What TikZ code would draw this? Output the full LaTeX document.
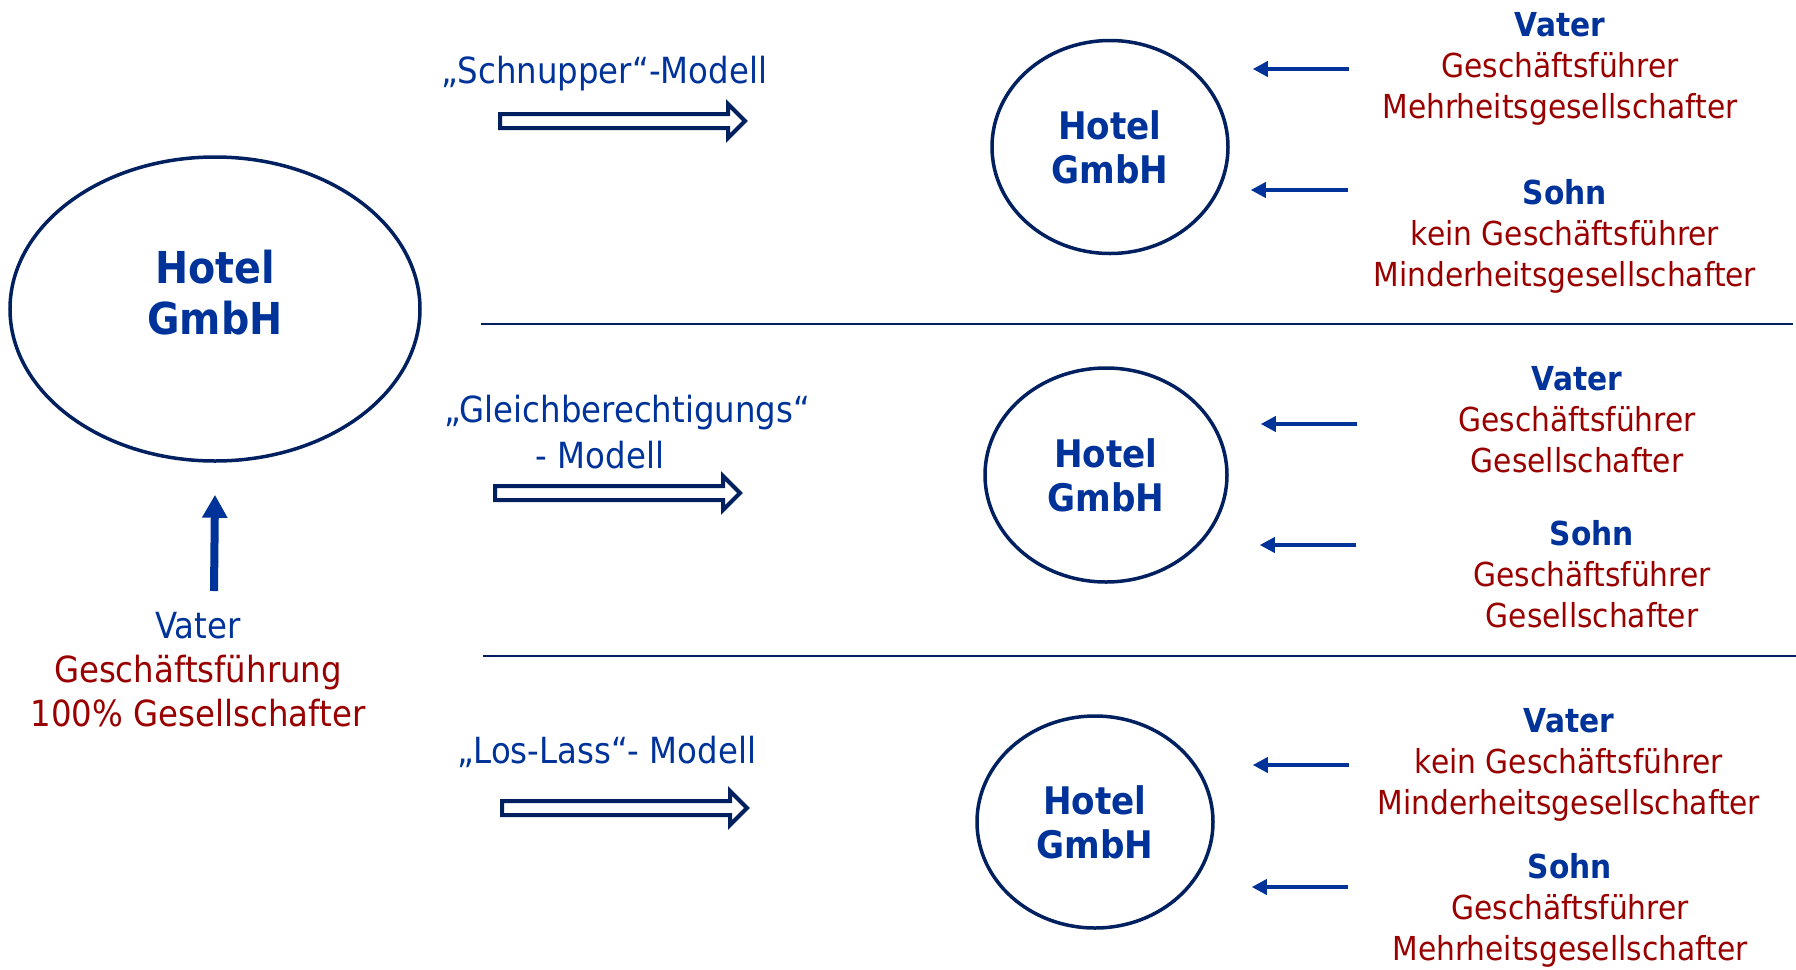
\documentclass[tikz,border=0pt]{standalone}
\usepackage{fontspec}
\setmainfont{DejaVu Sans}[FakeStretch=0.9]
\usepackage{xcolor}
\usetikzlibrary{arrows.meta,shapes.geometric}
\definecolor{blau}{RGB}{0,51,153}
\definecolor{navy}{RGB}{0,32,96}
\definecolor{rot}{RGB}{153,0,0}
% hollow block arrow: tail x, centre y (pixel units)
\newcommand{\hohlpfeil}[2]{%
  \draw[hohl] (#1,#2-7) -- (#1+228,#2-7) -- (#1+228,#2-17) -- (#1+245,#2)
    -- (#1+228,#2+17) -- (#1+228,#2+7) -- (#1,#2+7) -- cycle;}

\begin{document}
\begin{tikzpicture}[x=0.5pt, y=-0.5pt,
    oval/.style={draw=navy, line width=1.75pt, ellipse, inner sep=0pt},
    hoteltxt/.style={text=blau, align=center, font=\bfseries\fontsize{19}{22}\selectfont},
    modell/.style={text=blau, anchor=base, font=\fontsize{18}{22}\selectfont},
    rolle/.style={text=rot, align=center, font=\fontsize{16.5}{20.5}\selectfont},
    pfeil/.style={draw=blau, line width=1.8pt, -{Triangle[width=7.5pt,length=7.5pt]}},
    hochpfeil/.style={draw=blau, line width=4pt, -{Triangle[width=12pt,length=11.5pt]}},
    hohl/.style={draw=navy, line width=2pt, fill=white, line join=miter},
    trenn/.style={draw=navy, line width=1pt}]
  \useasboundingbox (0,0) rectangle (1796,970);

  % starting point
  \node[oval, minimum width=205pt, minimum height=152pt] (hotel) at (215,309) {};
  \node[hoteltxt, font=\bfseries\fontsize{22}{25.5}\selectfont]
    (hoteltext) at ([yshift=8pt]hotel.center) {Hotel\\GmbH};
  \node[rolle, font=\fontsize{18}{22}\selectfont] (vater) at (198,670)
    {\textcolor{blau}{Vater}\\Geschäftsführung\\100\% Gesellschafter};
  \coordinate (vfuss) at (214,591);
  \draw[hochpfeil] (vfuss) -- ([yshift=-16pt]hotel.south);

  % separators
  \draw[trenn] (481,324) -- (1793,324);
  \draw[trenn] (483,656) -- (1796,656);

  % model 1
  \node[modell] (schnupper) at (604,83) {„Schnupper“-Modell};
  \hohlpfeil{500}{121}
  \node[oval, minimum width=118pt, minimum height=106.5pt] (hotelA) at (1110,147) {};
  \node[hoteltxt] at (hotelA.center) {Hotel\\GmbH};
  \node[rolle] (vaterA) at (1560,69)
    {\textcolor{blau}{\textbf{Vater}}\\Geschäftsführer\\Mehrheitsgesellschafter};
  \node[rolle] (sohnA) at (1565,236)
    {\textcolor{blau}{\textbf{Sohn}}\\kein Geschäftsführer\\Minderheitsgesellschafter};
  \coordinate (pA1) at (1349,69);
  \coordinate (pA2) at (1348,190);
  \draw[pfeil] (pA1) -- ([xshift=11.5pt]pA1 -| hotelA.east);
  \draw[pfeil] (pA2) -- ([xshift=10.5pt]pA2 -| hotelA.east);

  % model 2
  \node[modell] (gleich) at (627,422) {„Gleichberechtigungs“};
  \node[modell] (gleich2) at (600,468) {- Modell};
  \hohlpfeil{495}{493}
  \node[oval, minimum width=121pt, minimum height=107pt] (hotelB) at (1106,475) {};
  \node[hoteltxt] at (hotelB.center) {Hotel\\GmbH};
  \node[rolle] (vaterB) at (1577,420)
    {\textcolor{blau}{\textbf{Vater}}\\Geschäftsführer\\Gesellschafter};
  \node[rolle] (sohnB) at (1592,574)
    {\textcolor{blau}{\textbf{Sohn}}\\Geschäftsführer\\Gesellschafter};
  \coordinate (pB1) at (1357,424);
  \coordinate (pB2) at (1356,545);
  \draw[pfeil] (pB1) -- ([xshift=16pt]pB1 -| hotelB.east);
  \draw[pfeil] (pB2) -- ([xshift=15.5pt]pB2 -| hotelB.east);

  % model 3
  \node[modell] (loslass) at (607,763) {„Los-Lass“- Modell};
  \hohlpfeil{502}{808}
  \node[oval, minimum width=118pt, minimum height=106pt] (hotelC) at (1095,822) {};
  \node[hoteltxt] at (hotelC.center) {Hotel\\GmbH};
  \node[rolle] (vaterC) at (1569,765)
    {\textcolor{blau}{\textbf{Vater}}\\kein Geschäftsführer\\Minderheitsgesellschafter};
  \node[rolle] (sohnC) at (1570,910)
    {\textcolor{blau}{\textbf{Sohn}}\\Geschäftsführer\\Mehrheitsgesellschafter};
  \coordinate (pC1) at (1349,765);
  \coordinate (pC2) at (1348,887);
  \draw[pfeil] (pC1) -- ([xshift=19pt]pC1 -| hotelC.east);
  \draw[pfeil] (pC2) -- ([xshift=18.5pt]pC2 -| hotelC.east);
\end{tikzpicture}
\end{document}
